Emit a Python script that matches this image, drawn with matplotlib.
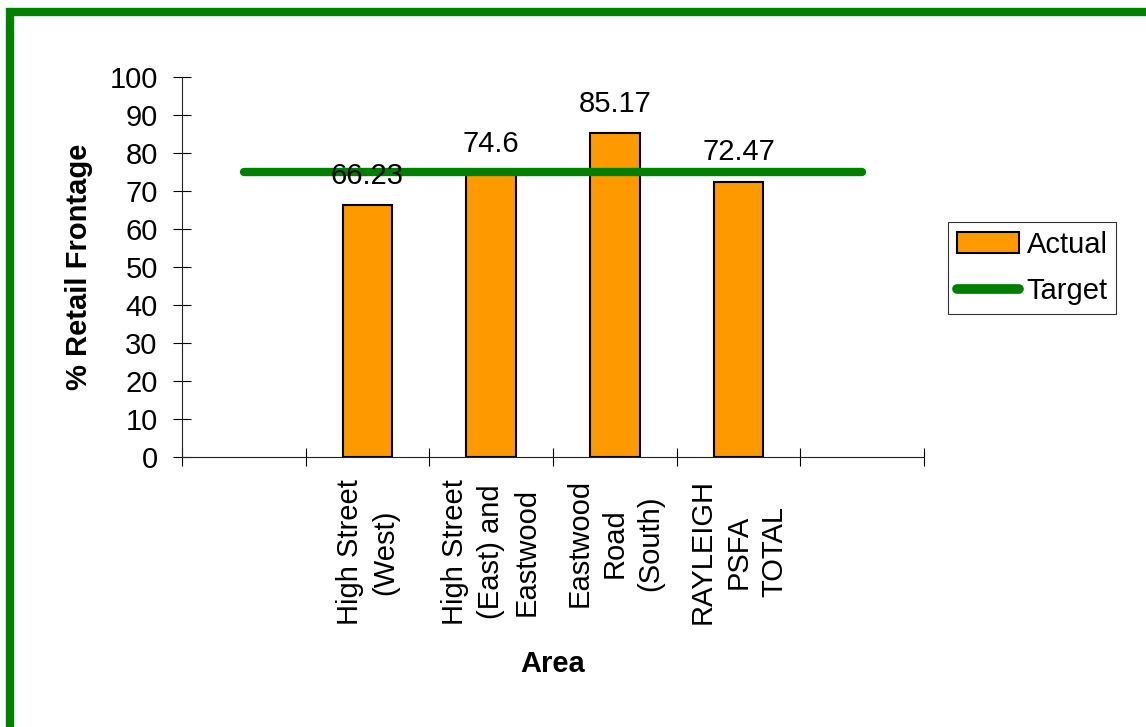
import matplotlib.pyplot as plt
from matplotlib.patches import Rectangle

plt.rcParams['font.family'] = ['Liberation Sans', 'DejaVu Sans']

# six slots along x; first and last are left empty
areas = ['', 'High Street\n(West)', 'High Street\n(East) and\nEastwood',
         'Eastwood\nRoad\n(South)', 'RAYLEIGH\nPSFA\nTOTAL', '']
actual = [None, 66.23, 74.6, 85.17, 72.47, None]
target = [75, 75, 75, 75, 75, 75]
y_ticks = [0, 10, 20, 30, 40, 50, 60, 70, 80, 90, 100]

fs = 21

fig = plt.figure(figsize=(11.46, 7.27), dpi=100)
ax = fig.add_axes([0.1588, 0.3714, 0.6475, 0.5227])

xs = list(range(len(areas)))
bar_x = [x for x, v in zip(xs, actual) if v is not None]
bar_v = [v for v in actual if v is not None]

bars = ax.bar(bar_x, bar_v, width=0.404, color='#FF9900', edgecolor='black',
              linewidth=1.5, zorder=2, label='Actual')
line, = ax.plot(xs, target, color='#008000', linewidth=6,
                solid_capstyle='round', zorder=3, label='Target')

for x, v in zip(bar_x, bar_v):
    ax.annotate(f'{v:g}', (x, v), xytext=(0, 11), textcoords='offset points',
                ha='center', va='bottom', fontsize=fs, zorder=4)

ax.set_xlim(-0.5, len(areas) - 0.5)
ax.set_ylim(0, 100)
ax.set_yticks(y_ticks)
ax.tick_params(axis='y', direction='inout', length=13, width=0.8,
               labelsize=fs, pad=11)

# category labels at slot centres, tick marks at slot boundaries
ax.set_xticks(xs)
ax.set_xticklabels(areas, rotation=90, fontsize=fs, va='top', ha='center',
                   multialignment='center', linespacing=1.35)
ax.tick_params(axis='x', which='major', length=0, pad=16)
ax.set_xticks([x - 0.5 for x in xs] + [len(areas) - 0.5], minor=True)
ax.tick_params(axis='x', which='minor', direction='inout', length=13, width=0.8)

for side in ['top', 'right']:
    ax.spines[side].set_visible(False)
for side in ['left', 'bottom']:
    ax.spines[side].set_linewidth(0.8)
    ax.spines[side].set_color('#222222')

ax.set_ylabel('% Retail Frontage', fontsize=fs, fontweight='bold', labelpad=12)
ax.set_xlabel('Area', fontsize=fs, fontweight='bold', labelpad=18)

leg = ax.legend([bars, line], ['Actual', 'Target'], loc='upper left',
                bbox_to_anchor=(1.032, 0.618), fontsize=fs, frameon=True,
                fancybox=False, handlelength=2.15, handleheight=0.7,
                handletextpad=0.25, borderpad=0.3, labelspacing=0.62,
                borderaxespad=0)
leg.get_frame().set_edgecolor('black')
leg.get_frame().set_linewidth(0.8)
leg.get_lines()[0].set_linewidth(7)

# green frame around the whole chart
fig.patches.append(Rectangle((10 / 1146, -0.2), 1.3, 1.2 - 12 / 727,
                             transform=fig.transFigure, fill=False,
                             edgecolor='#008000', linewidth=6, clip_on=False))

fig.savefig('out.png', dpi=100)
